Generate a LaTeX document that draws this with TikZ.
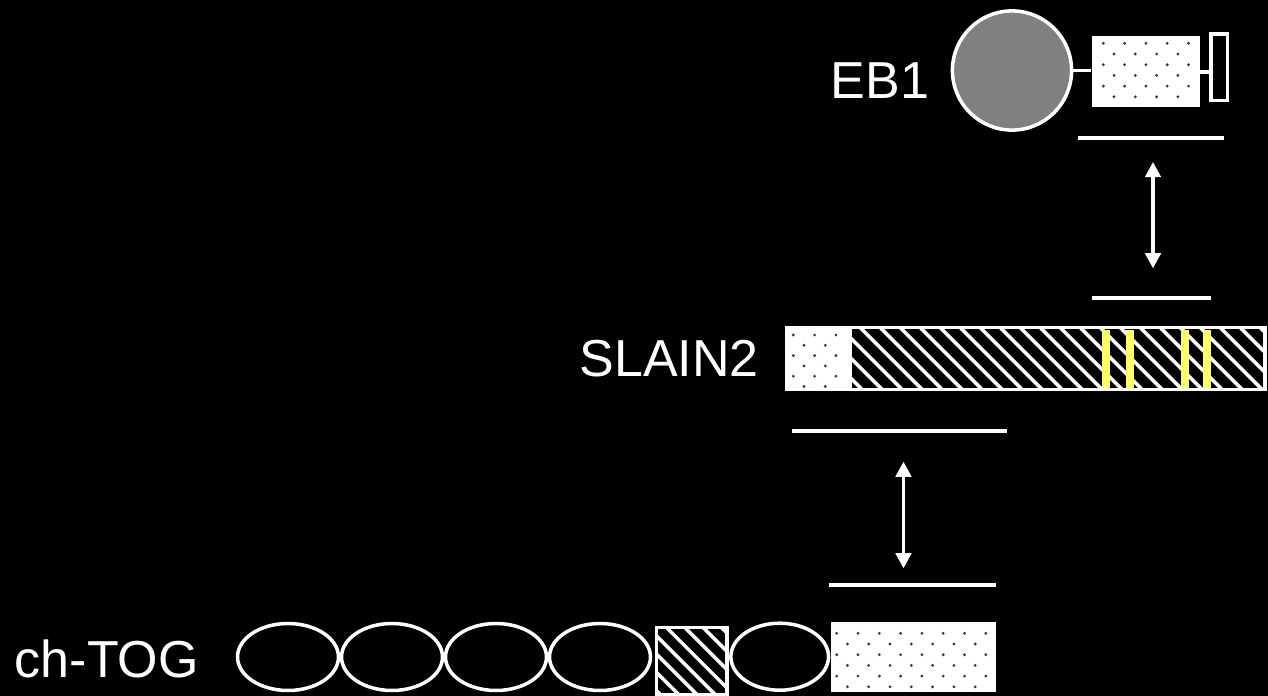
\documentclass[tikz,border=0pt]{standalone}
\usepackage{fontspec}
\setmainfont{Liberation Sans}
\usetikzlibrary{arrows.meta,calc,shapes.geometric}
\definecolor{headgray}{HTML}{808080}
\definecolor{dotgray}{HTML}{3A3A3A}
\definecolor{motif}{HTML}{FFFF66}
\tikzset{
  >={Triangle[length=8.6pt,width=8.8pt]},
  protname/.style={text=white,font=\fontsize{29.6}{32}\selectfont,inner sep=0pt,anchor=base west},
  dombox/.style={draw=white,line width=2pt,inner sep=0pt},
  regionline/.style={white,line width=2.1pt},
  linker/.style={white,line width=2.2pt},
  bindarrow/.style={<->,white,line width=1.9pt},
  dotfill/.style n args={4}{fill=white,inner sep=0pt,path picture={
    \foreach \r in {0,...,5}{
      \pgfmathtruncatemacro\rowodd{mod(\r,2)}
      \pgfmathtruncatemacro\ncol{#3-1-\rowodd}
      \foreach \c in {0,...,\ncol}
        \fill[dotgray] ($(path picture bounding box.north west)+(#1+\c*21.3+\rowodd*10.7,#2+\r*#4)$) circle (0.9pt);
    }}},
  hatchbox/.style={dombox,fill=black,outer sep=0pt},
}
\newcommand{\hatchin}[2]{%
  \begin{scope}
    \clip (#1.south west) rectangle (#1.north east);
    \foreach \k in {-8,...,24}
      \draw[white,line width=2pt] ($(#1.north west)+(\k*#2,-10)$) -- ++(110,110);
  \end{scope}
  \draw[white,line width=2pt] (#1.south west) rectangle (#1.north east);}

\begin{document}
\begin{tikzpicture}[x=0.02cm,y=-0.02cm]
  \fill[black] (0,0) rectangle (1268,696);
  \useasboundingbox (0,0) rectangle (1268,696);
  \node[protname] (eb1lab) at (830.5,98.3) {EB1};
  \node[dombox,circle,fill=headgray,minimum size=2.384cm] (eb1ch) at (1012,70.5) {};
  \node[dotfill={11.6}{7.3}{5}{10.7},minimum width=2.166cm,minimum height=1.426cm] (eb1cc) at (1145.85,71.65) {};
  \node[dombox,fill=black,minimum width=.33cm,minimum height=1.33cm] (eb1tail) at (1219.25,67.25) {};
  \draw[linker] (eb1ch.east) -- (eb1ch.east -| eb1cc.west);
  \draw[linker] (eb1cc.east) -- (eb1cc.east -| eb1tail.west);
  \draw[regionline] (1077.7,137.7) -- (1224,137.7);
  \coordinate (ebtop) at (1153,162);
  \coordinate (ebbot) at (1153,268.3);
  \draw[bindarrow] (ebtop) -- (ebbot);
  \draw[regionline] (1091.7,298.3) -- (1211,298.3);
  \node[protname] (slainlab) at (579.3,376.7) {SLAIN2};
  \node[dombox,dotfill={6.8}{7.5}{3}{10.3},minimum width=1.27cm,minimum height=1.24cm] (slainN) at (818.25,358.5) {};
  \node[hatchbox,minimum width=8.3cm,minimum height=1.24cm] (slainC) at (1057.5,358.5) {};
  \hatchin{slainC}{20}
  \foreach \m in {1102,1125.7,1180.7,1203}
    \fill[motif] (\m,329.5) rectangle ++(7.8,58);
  \draw[regionline] (792.3,430.7) -- (1007,430.7);
  \coordinate (sltop) at (903.5,461.7);
  \coordinate (slbot) at (903.5,568.3);
  \draw[bindarrow] (sltop) -- (slbot);
  \draw[regionline] (829,585) -- (995.7,585);
  \node[protname] (toglab) at (14.5,677) {ch-TOG};
  \foreach \i/\x in {1/288,2/392,3/496,4/600}
    \node[dombox,ellipse,minimum width=2.02cm,minimum height=1.34cm] (tog\i) at (\x,657) {};
  \node[hatchbox,minimum width=1.41cm,minimum height=1.35cm] (tog5) at (691.75,661.25) {};
  \hatchin{tog5}{18.3}
  \node[dombox,ellipse,minimum width=1.954cm,minimum height=1.34cm] (tog6) at (779.7,656.7) {};
  \node[dotfill={6}{11.6}{8}{10.7},minimum width=3.306cm,minimum height=1.412cm] (togcc) at (913.35,657) {};
\end{tikzpicture}
\end{document}
